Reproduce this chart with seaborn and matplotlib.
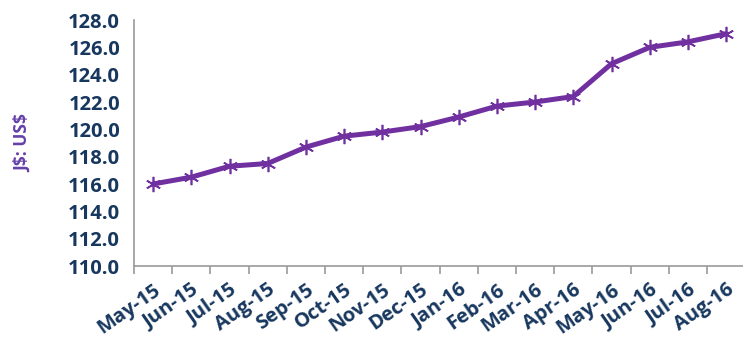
import matplotlib
matplotlib.use("Agg")
import matplotlib.pyplot as plt
import seaborn as sns
import pandas as pd
import numpy as np

months = ["May-15", "Jun-15", "Jul-15", "Aug-15", "Sep-15", "Oct-15", "Nov-15", "Dec-15",
          "Jan-16", "Feb-16", "Mar-16", "Apr-16", "May-16", "Jun-16", "Jul-16", "Aug-16"]
rate = [116.0, 116.5, 117.3, 117.5, 118.7, 119.5, 119.8, 120.2,
        120.9, 121.7, 122.0, 122.4, 124.8, 126.0, 126.4, 127.0]
yticks = [110.0, 112.0, 114.0, 116.0, 118.0, 120.0, 122.0, 124.0, 126.0, 128.0]

sns.set_style("white")
plt.rcParams['font.family'] = ['Open Sans', 'DejaVu Sans']

df = pd.DataFrame({"idx": np.arange(len(months)), "rate": rate})

W, H = 743, 337
fig = plt.figure(figsize=(W / 100, H / 100), dpi=100)
ax = fig.add_axes([134 / W, 1 - 266 / H, (743 - 134) / W, (266 - 20) / H])

purple = "#7030A0"
navy = "#17375E"
sns.lineplot(data=df, x="idx", y="rate", ax=ax, color=purple, linewidth=3.6,
             marker=(6, 2, 0), markersize=11, markeredgecolor=purple,
             markeredgewidth=1.2)

ax.set_ylim(110, 128)
ax.set_xlim(-0.5, -0.5 + 609 / 38.2)
ax.set_yticks(yticks)
ax.set_yticklabels([f"{v:.1f}" for v in yticks], fontsize=14.5, fontweight="bold", color=navy)
ax.set_xticks(np.arange(len(months)))
ax.set_xticklabels(months, rotation=35, ha="right", rotation_mode="anchor",
                   fontsize=14.5, fontweight="bold", color=navy)
ax.set_xticks(np.arange(len(months)) - 0.5, minor=True)
ax.tick_params(axis="x", which="major", length=0, pad=10)
ax.tick_params(axis="x", which="minor", length=6, color="#999999", width=1.2, direction="out")
ax.tick_params(axis="y", length=6, color="#999999", width=1.2, direction="out", pad=4)
ax.xaxis.set_tick_params(which="minor", bottom=True)

for s in ["top", "right"]:
    ax.spines[s].set_visible(False)
for s in ["left", "bottom"]:
    ax.spines[s].set_color("#999999")
    ax.spines[s].set_linewidth(1.2)

ax.set_xlabel("")
ax.set_ylabel("J\\$: US\\$", fontsize=12.5, fontweight="bold", color="#6540A8", labelpad=26)
ax.grid(False)

fig.savefig("out.png", dpi=100)
